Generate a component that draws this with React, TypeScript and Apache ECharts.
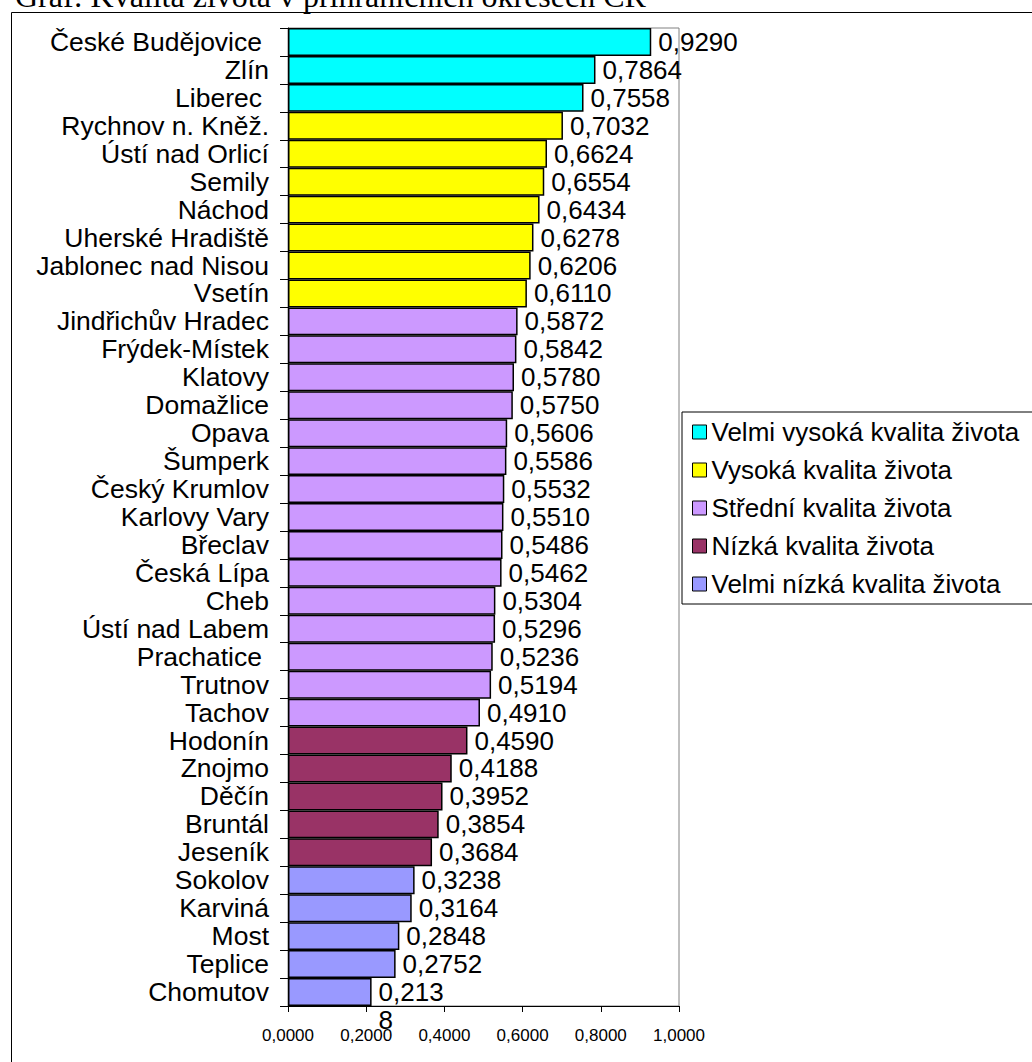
import React, { useEffect, useRef } from "react";
import * as echarts from "echarts";

const titleText = "Graf: Kvalita života v příhraničních okresech ČR";

const categories = [
  "České Budějovice ", "Zlín", "Liberec ", "Rychnov n. Kněž.", "Ústí nad Orlicí", "Semily", "Náchod",
  "Uherské Hradiště", "Jablonec nad Nisou", "Vsetín", "Jindřichův Hradec", "Frýdek-Místek", "Klatovy",
  "Domažlice", "Opava", "Šumperk", "Český Krumlov", "Karlovy Vary", "Břeclav", "Česká Lípa", "Cheb",
  "Ústí nad Labem", "Prachatice ", "Trutnov", "Tachov", "Hodonín", "Znojmo", "Děčín", "Bruntál",
  "Jeseník", "Sokolov", "Karviná", "Most", "Teplice", "Chomutov",
];

const values = [
  0.929, 0.7864, 0.7558, 0.7032, 0.6624, 0.6554, 0.6434, 0.6278, 0.6206, 0.611, 0.5872, 0.5842, 0.578,
  0.575, 0.5606, 0.5586, 0.5532, 0.551, 0.5486, 0.5462, 0.5304, 0.5296, 0.5236, 0.5194, 0.491, 0.459,
  0.4188, 0.3952, 0.3854, 0.3684, 0.3238, 0.3164, 0.2848, 0.2752, 0.2138,
];

const groupOf = [
  0, 0, 0, 1, 1, 1, 1, 1, 1, 1, 2, 2, 2, 2, 2, 2, 2, 2, 2, 2, 2, 2, 2, 2, 2, 3, 3, 3, 3, 3, 4, 4, 4, 4, 4,
];

const groupNames = [
  "Velmi vysoká kvalita života",
  "Vysoká kvalita života",
  "Střední kvalita života",
  "Nízká kvalita života",
  "Velmi nízká kvalita života",
];

const groupColors = ["#00FFFF", "#FFFF00", "#CC99FF", "#993366", "#9999FF"];

const xTicks = [0, 0.2, 0.4, 0.6, 0.8, 1.0];

const FONT = "'Liberation Sans', Arial, sans-serif";

function fmt(v: number, idx: number) {
  const s = v.toFixed(4).replace(".", ",");
  if (idx === values.length - 1) return s.slice(0, 5) + "\n" + s.slice(5);
  return s;
}

export default function App() {
  const ref = useRef<HTMLDivElement>(null);
  useEffect(() => {
    if (!ref.current) return;
    const chart = echarts.init(ref.current, null, { renderer: "svg" });
    const series = groupNames.map((name, g) => ({
      name,
      type: "bar",
      stack: "all",
      barCategoryGap: "0%",
      itemStyle: { color: groupColors[g], borderColor: "#000", borderWidth: 1.5 },
      label: {
        show: true,
        position: "right",
        distance: 7,
        color: "#000",
        fontFamily: FONT,
        fontSize: 26,
        lineHeight: 28,
        formatter: (p: any) => fmt(p.value, p.dataIndex),
      },
      data: values.map((v, i) => {
        if (groupOf[i] !== g) return "-";
        if (i === values.length - 1) return { value: v, label: { offset: [0, 14] } };
        return v;
      }),
    }));
    chart.setOption({
      animation: false,
      backgroundColor: "#fff",
      grid: {
        left: 288,
        top: 28,
        width: 391,
        height: 978,
        show: true,
        borderColor: "#808080",
        borderWidth: 1,
        containLabel: false,
      },
      legend: {
        orient: "vertical",
        left: 682,
        top: 412,
        padding: [7, 60, 7, 10],
        itemGap: 12,
        itemWidth: 14,
        itemHeight: 14,
        itemTextGap: 11,
        icon: "rect",
        borderColor: "#000",
        borderWidth: 1,
        data: groupNames,
        textStyle: { color: "#000", fontFamily: FONT, fontSize: 26 },
        itemStyle: { borderColor: "#000", borderWidth: 1 },
      },
      xAxis: {
        type: "value",
        min: 0,
        max: 1,
        interval: 0.2,
        splitLine: { show: false },
        axisLine: { show: true, lineStyle: { color: "#000", width: 1 } },
        axisTick: { show: true, length: 6, lineStyle: { color: "#000" } },
        axisLabel: {
          color: "#000",
          fontFamily: FONT,
          fontSize: 17,
          margin: 21,
          formatter: (v: number) => (xTicks.includes(Math.round(v * 10) / 10) ? v.toFixed(4).replace(".", ",") : ""),
        },
      },
      yAxis: {
        type: "category",
        data: categories,
        inverse: true,
        axisLine: { show: true, lineStyle: { color: "#000", width: 1 } },
        axisTick: { show: true, length: 8, lineStyle: { color: "#000" } },
        axisLabel: {
          interval: 0,
          color: "#000",
          fontFamily: FONT,
          fontSize: 26.5,
          margin: 19,
          formatter: (name: string) => (name.endsWith(" ") ? "{p|" + name.trim() + "}" : name),
          rich: {
            p: { color: "#000", fontFamily: FONT, fontSize: 26.5, padding: [0, 7, 0, 0] },
          },
        },
      },
      graphic: [
        {
          type: "rect",
          shape: { x: 11.5, y: 12.5, width: 1100, height: 1100 },
          style: { fill: "none", stroke: "#000", lineWidth: 1 },
          silent: true,
          z: -1,
        },
        {
          type: "text",
          x: 15,
          y: -4,
          style: {
            text: titleText,
            font: "32px 'Liberation Serif', 'Times New Roman', serif",
            fill: "#000",
            verticalAlign: "middle",
          },
        },
      ],
      series,
    });
    return () => chart.dispose();
  }, []);
  return <div ref={ref} style={{ position: "fixed", left: 0, top: 0, width: 1032, height: 1062 }} />;
}
